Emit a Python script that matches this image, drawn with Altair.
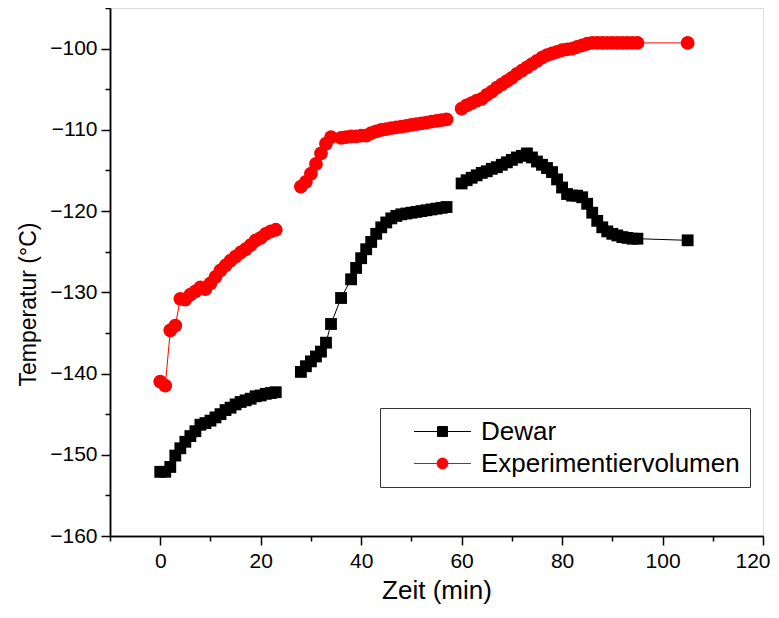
import altair as alt
import pandas as pd

# ---- data ----
series_names = ["Dewar", "Experimentiervolumen"]

t_dewar = [0, 1, 2, 3, 4, 5, 6, 7, 8, 9, 10, 11, 12, 13, 14, 15, 16, 17, 18, 19, 20, 21, 22, 23,
           28, 29, 30, 31, 32, 33, 34, 36, 38, 39, 40, 41, 42, 43, 44, 45, 46, 47, 48, 49, 50,
           51, 52, 53, 54, 55, 56, 57,
           60, 61, 62, 63, 64, 65, 66, 67, 68, 69, 70, 71, 72, 73, 74, 75, 76, 77, 78, 79, 80,
           81, 82, 83, 84, 85, 86, 87, 88, 89, 90, 91, 92, 93, 94, 95, 105]
v_dewar = [-152.1, -152.1, -151.5, -150.1, -149.2, -148.4, -147.7, -147.1, -146.3, -146.1,
           -145.8, -145.4, -145.0, -144.5, -144.2, -143.8, -143.5, -143.3, -143.1, -142.8,
           -142.7, -142.5, -142.4, -142.3,
           -139.8, -139.1, -138.5, -137.9, -137.3, -136.2, -133.9, -130.7, -128.4, -127.0,
           -125.8, -124.7, -123.8, -122.8, -122.0, -121.4, -120.9, -120.6, -120.4, -120.3,
           -120.2, -120.1, -120.0, -119.9, -119.8, -119.7, -119.6, -119.5,
           -116.6, -116.2, -115.9, -115.6, -115.3, -115.1, -114.8, -114.6, -114.3, -114.0,
           -113.7, -113.4, -113.2, -112.9, -113.4, -113.9, -114.3, -114.7, -115.2, -116.1,
           -117.1, -117.9, -118.1, -118.1, -118.3, -119.1, -120.2, -121.2, -122.0, -122.5,
           -122.8, -123.0, -123.2, -123.3, -123.4, -123.4, -123.6]

t_exp = [0, 1, 2, 3, 4, 5, 6, 7, 8, 9, 10, 11, 12, 13, 14, 15, 16, 17, 18, 19, 20, 21, 22, 23,
         28, 29, 30, 31, 32, 33, 34, 36, 37, 38, 39, 40, 41, 42, 43, 44, 45, 46, 47, 48, 49, 50,
         51, 52, 53, 54, 55, 56, 57,
         60, 61, 62, 63, 64, 65, 66, 67, 68, 69, 70, 71, 72, 73, 74, 75, 76, 77, 78, 79, 80,
         81, 82, 83, 84, 85, 86, 87, 88, 89, 90, 91, 92, 93, 94, 95, 105]
v_exp = [-141.0, -141.5, -134.7, -134.1, -130.8, -130.9, -130.3, -129.9, -129.4, -129.6,
         -128.9, -128.1, -127.3, -126.7, -126.1, -125.6, -125.1, -124.7, -124.2, -123.6,
         -123.3, -122.8, -122.5, -122.3,
         -117.0, -116.4, -115.4, -114.2, -112.9, -111.7, -110.9, -111.0, -110.9, -110.8,
         -110.8, -110.7, -110.7, -110.4, -110.2, -110.0, -109.9, -109.8, -109.7, -109.6,
         -109.5, -109.4, -109.3, -109.2, -109.1, -109.0, -108.9, -108.8, -108.7,
         -107.4, -107.0, -106.7, -106.4, -106.2, -105.7, -105.3, -104.8, -104.4, -104.0,
         -103.6, -103.1, -102.7, -102.3, -101.9, -101.5, -101.1, -100.8, -100.6, -100.4,
         -100.2, -100.1, -100.0, -99.8, -99.6, -99.4, -99.3, -99.3, -99.3, -99.3, -99.3,
         -99.3, -99.3, -99.3, -99.3, -99.3, -99.3]

x_major_ticks = [0, 20, 40, 60, 80, 100, 120]
x_minor_ticks = [-10, 10, 30, 50, 70, 90, 110]
y_major_ticks = [-160, -150, -140, -130, -120, -110, -100]
y_minor_ticks = [-155, -145, -135, -125, -115, -105, -95]


def segment(t):
    return 1 if t <= 23 else (2 if t <= 57 else 3)


rows = []
for name, ts, vs in [("Dewar", t_dewar, v_dewar), ("Experimentiervolumen", t_exp, v_exp)]:
    for t, v in zip(ts, vs):
        rows.append({"series": name, "t": t, "temp": v, "seg": segment(t)})
df = pd.DataFrame(rows)

FONT = "Liberation Sans"
x_scale = alt.Scale(domain=[-10, 120], nice=False, zero=False)
y_scale = alt.Scale(domain=[-160, -95], nice=False, zero=False)

common_axis = dict(grid=False, domainColor="black", tickColor="black", domainWidth=1.5,
                   tickWidth=1.5, labelColor="black", titleColor="black",
                   labelFont=FONT, titleFont=FONT)

x_major = alt.Axis(values=x_major_ticks, tickSize=9, labelFontSize=21, labelPadding=5,
                   labelFlush=True, labelFlushOffset=7,
                   title="Zeit (min)", titleFontSize=26, titleFontWeight="normal",
                   titlePadding=6, orient="bottom", **common_axis)
y_major = alt.Axis(values=y_major_ticks, tickSize=9, labelFontSize=21, labelPadding=4,
                   labelFlush=False,
                   title="Temperatur (°C)", titleFontSize=23, titleFontWeight="normal",
                   titlePadding=9, titleY=296, orient="left", **common_axis)
x_minor = alt.Axis(values=x_minor_ticks, tickSize=5, labels=False, title=None,
                   orient="bottom", **common_axis)
y_minor = alt.Axis(values=y_minor_ticks, tickSize=5, labels=False, title=None,
                   orient="left", **common_axis)

base = alt.Chart(df)


def sub(name):
    return base.transform_filter(alt.datum.series == name)


line_d = sub("Dewar").mark_line(color="black", strokeWidth=1).encode(
    x=alt.X("t:Q", scale=x_scale, axis=x_major),
    y=alt.Y("temp:Q", scale=y_scale, axis=y_major),
    detail="seg:N",
)
line_e = sub("Experimentiervolumen").mark_line(color="#ff0000", strokeWidth=1).encode(
    x=alt.X("t:Q", scale=x_scale, axis=None),
    y=alt.Y("temp:Q", scale=y_scale, axis=None),
    detail="seg:N",
)
pts_d = sub("Dewar").mark_point(shape="square", filled=True, size=140, color="black",
                                opacity=1).encode(
    x=alt.X("t:Q", scale=x_scale, axis=None),
    y=alt.Y("temp:Q", scale=y_scale, axis=None),
)
pts_e = sub("Experimentiervolumen").mark_point(shape="circle", filled=True, size=190,
                                               color="#ff0000", opacity=1).encode(
    x=alt.X("t:Q", scale=x_scale, axis=None),
    y=alt.Y("temp:Q", scale=y_scale, axis=None),
)

# legend symbols: short line with marker (custom paths, unit = sqrt(symbolSize)/2 = 13px)
path_sq = "M0.81,0H5.19M2.62,-0.385H3.38V0.385H2.62Z"
path_ci = "M0.81,0H5.19M3.42,0A0.42,0.42 0 1,1 2.58,0A0.42,0.42 0 1,1 3.42,0Z"

leg = alt.Legend(title=None, orient="none", legendX=270, legendY=400,
                 strokeColor="#333333", fillColor="white", padding=10,
                 labelFont=FONT, labelFontSize=26, labelColor="black", labelLimit=500,
                 symbolSize=676, symbolStrokeWidth=1, labelOffset=64, rowPadding=5)

legend_layer = base.transform_filter("false").mark_point(filled=True, opacity=1).encode(
    x=alt.X("t:Q", scale=x_scale, axis=x_minor),
    y=alt.Y("temp:Q", scale=y_scale, axis=y_minor),
    color=alt.Color("series:N", scale=alt.Scale(domain=series_names, range=["black", "#ff0000"]),
                    legend=leg),
    stroke=alt.Stroke("series:N", scale=alt.Scale(domain=series_names, range=["black", "#ff0000"]),
                      legend=leg),
    shape=alt.Shape("series:N", scale=alt.Scale(domain=series_names, range=[path_sq, path_ci]),
                    legend=leg),
)

chart = alt.layer(line_d, line_e, pts_d, pts_e, legend_layer).resolve_axis(
    x="independent", y="independent"
).properties(
    width=653, height=528,
    autosize=alt.AutoSizeParams(type="none"),
    padding={"left": 102, "top": 0, "right": 8, "bottom": 69},
).configure_view(strokeWidth=0).configure(font=FONT)

chart.save("out.html", embed_options={"renderer": "svg", "actions": False})
